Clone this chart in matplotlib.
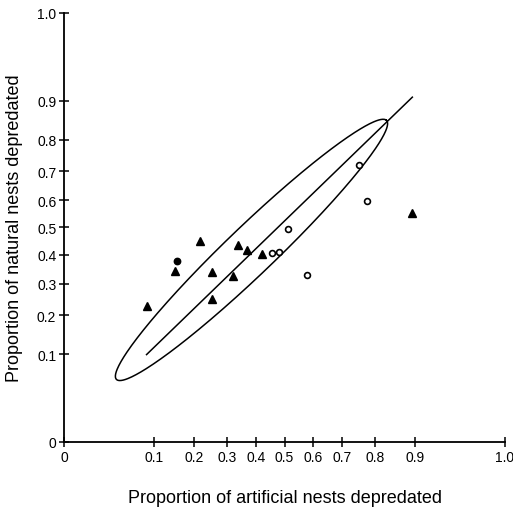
import numpy as np
import matplotlib
matplotlib.use("Agg")
import matplotlib.pyplot as plt

plt.rcParams["font.family"] = ["Liberation Sans", "DejaVu Sans"]

# proportions (arcsine-square-root axes)
tri_x = [0.084, 0.148, 0.217, 0.252, 0.252, 0.336, 0.367, 0.322, 0.421, 0.895]
tri_y = [0.229, 0.345, 0.452, 0.340, 0.251, 0.436, 0.418, 0.325, 0.404, 0.554]
dot_x = [0.153]
dot_y = [0.378]
open_x = [0.455, 0.480, 0.514, 0.579, 0.753, 0.778]
open_y = [0.406, 0.410, 0.493, 0.328, 0.720, 0.596]

fit_x = [0.084, 0.895]
fit_y = [0.099, 0.908]

# confidence ellipse: centre as proportions, axes in transformed degrees
ell_center = (0.3835, 0.4183)
ell_semi_major = 38.7
ell_semi_minor = 5.0
ell_angle = 44.6

ticks = [0, 0.1, 0.2, 0.3, 0.4, 0.5, 0.6, 0.7, 0.8, 0.9, 1.0]
tick_labels = ["0", "0.1", "0.2", "0.3", "0.4", "0.5", "0.6", "0.7", "0.8",
               "0.9", "1.0"]


def fwd(p):
    return np.degrees(np.arcsin(np.sqrt(np.clip(p, 0, 1))))


def inv(t):
    return np.sin(np.radians(t)) ** 2


fig = plt.figure(figsize=(5.13, 5.10), dpi=100)
ax = fig.add_axes([64 / 513, 1 - 443 / 510, 441 / 513, 429 / 510])
ax.set_xscale("function", functions=(fwd, inv))
ax.set_yscale("function", functions=(fwd, inv))
ax.set_xlim(0, 1)
ax.set_ylim(0, 1)

# ellipse built in transformed space, mapped back to proportions
th = np.linspace(0, 2 * np.pi, 400)
a = np.radians(ell_angle)
cx, cy = fwd(ell_center[0]), fwd(ell_center[1])
ex = cx + ell_semi_major * np.cos(th) * np.cos(a) - ell_semi_minor * np.sin(th) * np.sin(a)
ey = cy + ell_semi_major * np.cos(th) * np.sin(a) + ell_semi_minor * np.sin(th) * np.cos(a)
ax.plot(inv(ex), inv(ey), color="black", lw=1.1)

ax.plot(fit_x, fit_y, color="black", lw=1.1)

ax.plot(tri_x, tri_y, "^", color="black", markersize=6, ls="none")
ax.plot(dot_x, dot_y, "o", color="black", markersize=4.6, ls="none")
ax.plot(open_x, open_y, "o", mfc="white", mec="black", mew=1.2,
        markersize=4.2, ls="none")

for s in ("top", "right"):
    ax.spines[s].set_visible(False)
for s in ("left", "bottom"):
    ax.spines[s].set_linewidth(1.3)

ax.set_xticks(ticks)
ax.set_xticklabels(tick_labels)
ax.set_yticks(ticks)
ax.set_yticklabels(tick_labels)
ax.minorticks_off()
ax.tick_params(direction="inout", length=7, width=1.1, labelsize=10,
               pad=2)

ax.set_xlabel("Proportion of artificial nests depredated", fontsize=13,
              labelpad=18)
ax.set_ylabel("Proportion of natural nests depredated", fontsize=13,
              labelpad=10)

fig.savefig("out.png", dpi=100)
